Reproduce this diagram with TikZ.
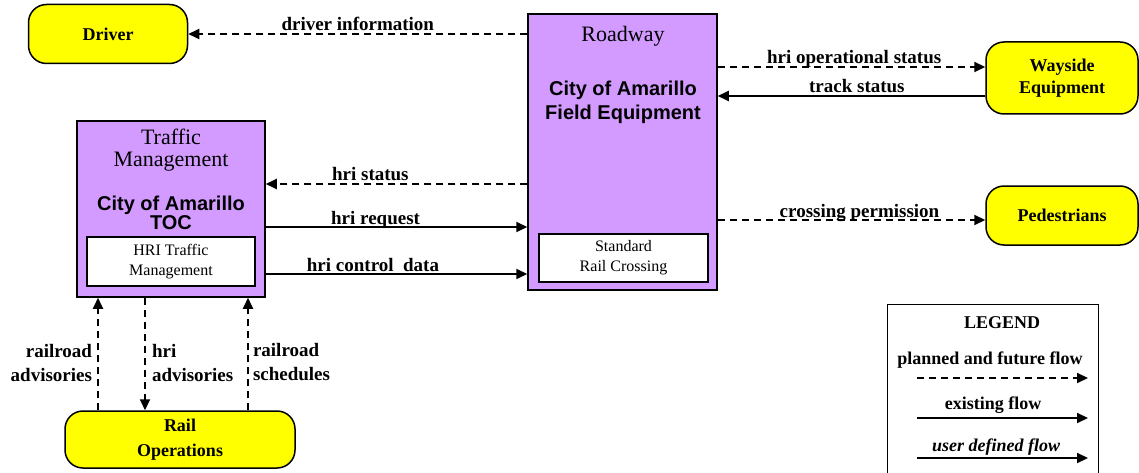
\documentclass[tikz,border=0pt]{standalone}
\usepackage{fontspec}
\setmainfont{Liberation Serif}
\newfontfamily\arialfont{Liberation Sans}
\usetikzlibrary{arrows.meta}
\definecolor{termYellow}{HTML}{FFFF00}
\definecolor{elemPurple}{HTML}{D39BFF}

\tikzset{
  terminator/.style={draw, line width=1.5pt, fill=termYellow, rounded corners=18pt,
    inner sep=0pt, align=center, font=\fontsize{18}{22}\selectfont\bfseries},
  element/.style={draw, line width=1.5pt, fill=elemPurple, inner sep=0pt},
  package/.style={draw, line width=1.2pt, fill=white, inner sep=0pt, align=center,
    font=\fontsize{16}{20}\selectfont},
  classtext/.style={inner sep=0pt, align=center, font=\fontsize{22}{22}\selectfont},
  nametext/.style={inner sep=0pt, align=center, font=\arialfont\bfseries\fontsize{20}{20}\selectfont},
  flow/.style={line width=2pt, -{Triangle[length=11pt,width=10pt]}},
  planned/.style={flow, dash pattern=on 7pt off 5pt},
  flowlabel/.style={inner sep=0pt, anchor=base, yshift=3pt, font=\fontsize{19}{24}\selectfont\bfseries},
  vlabel/.style={inner sep=0pt, font=\fontsize{19}{24}\selectfont\bfseries},
}

\begin{document}
\begin{tikzpicture}[x=1pt, y=-1pt]
    \useasboundingbox (0,0) rectangle (1139,473);

    % terminators
    \node[terminator, minimum width=159pt, minimum height=59pt] (driver) at (108,34) {Driver};
    \node[terminator, minimum width=152pt, minimum height=72pt] (way) at (1062,78) {Wayside\\Equipment};
    \node[terminator, minimum width=152pt, minimum height=59pt] (ped) at (1062,215.5) {Pedestrians};
    \node[terminator, minimum width=230pt, minimum height=57pt, font=\fontsize{18}{25}\selectfont\bfseries]
        (rail) at (180,439.5) {Rail\\Operations};

    % traffic management
    \node[element, minimum width=188pt, minimum height=176pt] (tm) at (171,209) {};
    \node[classtext] (tmclass) at (171,150) {Traffic\\Management};
    \node[nametext, font=\arialfont\bfseries\fontsize{20}{19}\selectfont] (tmname) at (171,213) {City of Amarillo\\TOC};
    \node[package, minimum width=168pt, minimum height=49pt] (hri) at (171,261.5) {HRI Traffic\\Management};

    % roadway
    \node[element, minimum width=189pt, minimum height=276pt] (road) at (622.5,152) {};
    \node[classtext] (roadclass) at (623,36) {Roadway};
    \node[nametext, font=\arialfont\bfseries\fontsize{20}{24}\selectfont] (roadname) at (623,102) {City of Amarillo\\Field Equipment};
    \node[package, minimum width=169pt, minimum height=48pt] (src) at (623.5,258) {Standard\\Rail Crossing};

    % flows
    \draw[planned] (road.west |- driver.east) -- node[flowlabel] {driver information} (driver.east);
    \draw[planned] (road.west |- 0,184) -- node[flowlabel, pos=0.6] {hri status} (tm.east |- 0,184);
    \draw[flow] (tm.east |- 0,227) -- node[flowlabel, pos=0.42] {hri request} (road.west |- 0,227);
    \draw[flow] (tm.east |- 0,274) -- node[flowlabel, pos=0.41] {hri control\ \ data} (road.west |- 0,274);
    \draw[planned] (road.east |- 0,67) -- node[flowlabel, pos=0.51] {hri operational status} (way.west |- 0,67);
    \draw[flow] (way.west |- 0,96) -- node[flowlabel, pos=0.48] {track status} (road.east |- 0,96);
    \draw[planned] (road.east |- 0,220) -- node[flowlabel, pos=0.53] {crossing permission} (ped.west |- 0,220);

    \draw[planned] (rail.north -| 98,0) -- node[vlabel, pos=0.42, anchor=east, align=right, xshift=-5pt]
        {railroad\\advisories} (tm.south -| 98,0);
    \draw[planned] (tm.south -| 145,0) -- node[vlabel, pos=0.58, anchor=west, align=left, xshift=6pt]
        {hri\\advisories} (rail.north -| 145,0);
    \draw[planned] (rail.north -| 248,0) -- node[vlabel, pos=0.43, anchor=west, align=left, xshift=4pt]
        {railroad\\schedules} (tm.south -| 248,0);

    % legend
    \node[draw, line width=1.2pt, minimum width=211pt, minimum height=180pt, inner sep=0pt, anchor=north west]
        (legend) at (887,304) {};
    \node[vlabel, font=\fontsize{18}{22}\selectfont\bfseries] (legendtitle) at (1002,323) {LEGEND};
    \node[vlabel, font=\fontsize{18}{22}\selectfont\bfseries] (plannedtext) at (990,360) {planned and future flow};
    \coordinate (planneda) at (917,378);
    \coordinate (plannedb) at (1088,378);
    \draw[planned] (planneda) -- (plannedb);
    \node[vlabel, font=\fontsize{18}{22}\selectfont\bfseries] (existingtext) at (993,405) {existing flow};
    \coordinate (existinga) at (917,418);
    \coordinate (existingb) at (1088,418);
    \draw[flow] (existinga) -- (existingb);
    \node[vlabel, font=\fontsize{18}{22}\selectfont\bfseries\itshape] (usertext) at (996,447) {user defined flow};
    \coordinate (usera) at (917,458);
    \coordinate (userb) at (1088,458);
    \draw[flow] (usera) -- (userb);

\end{tikzpicture}
\end{document}
